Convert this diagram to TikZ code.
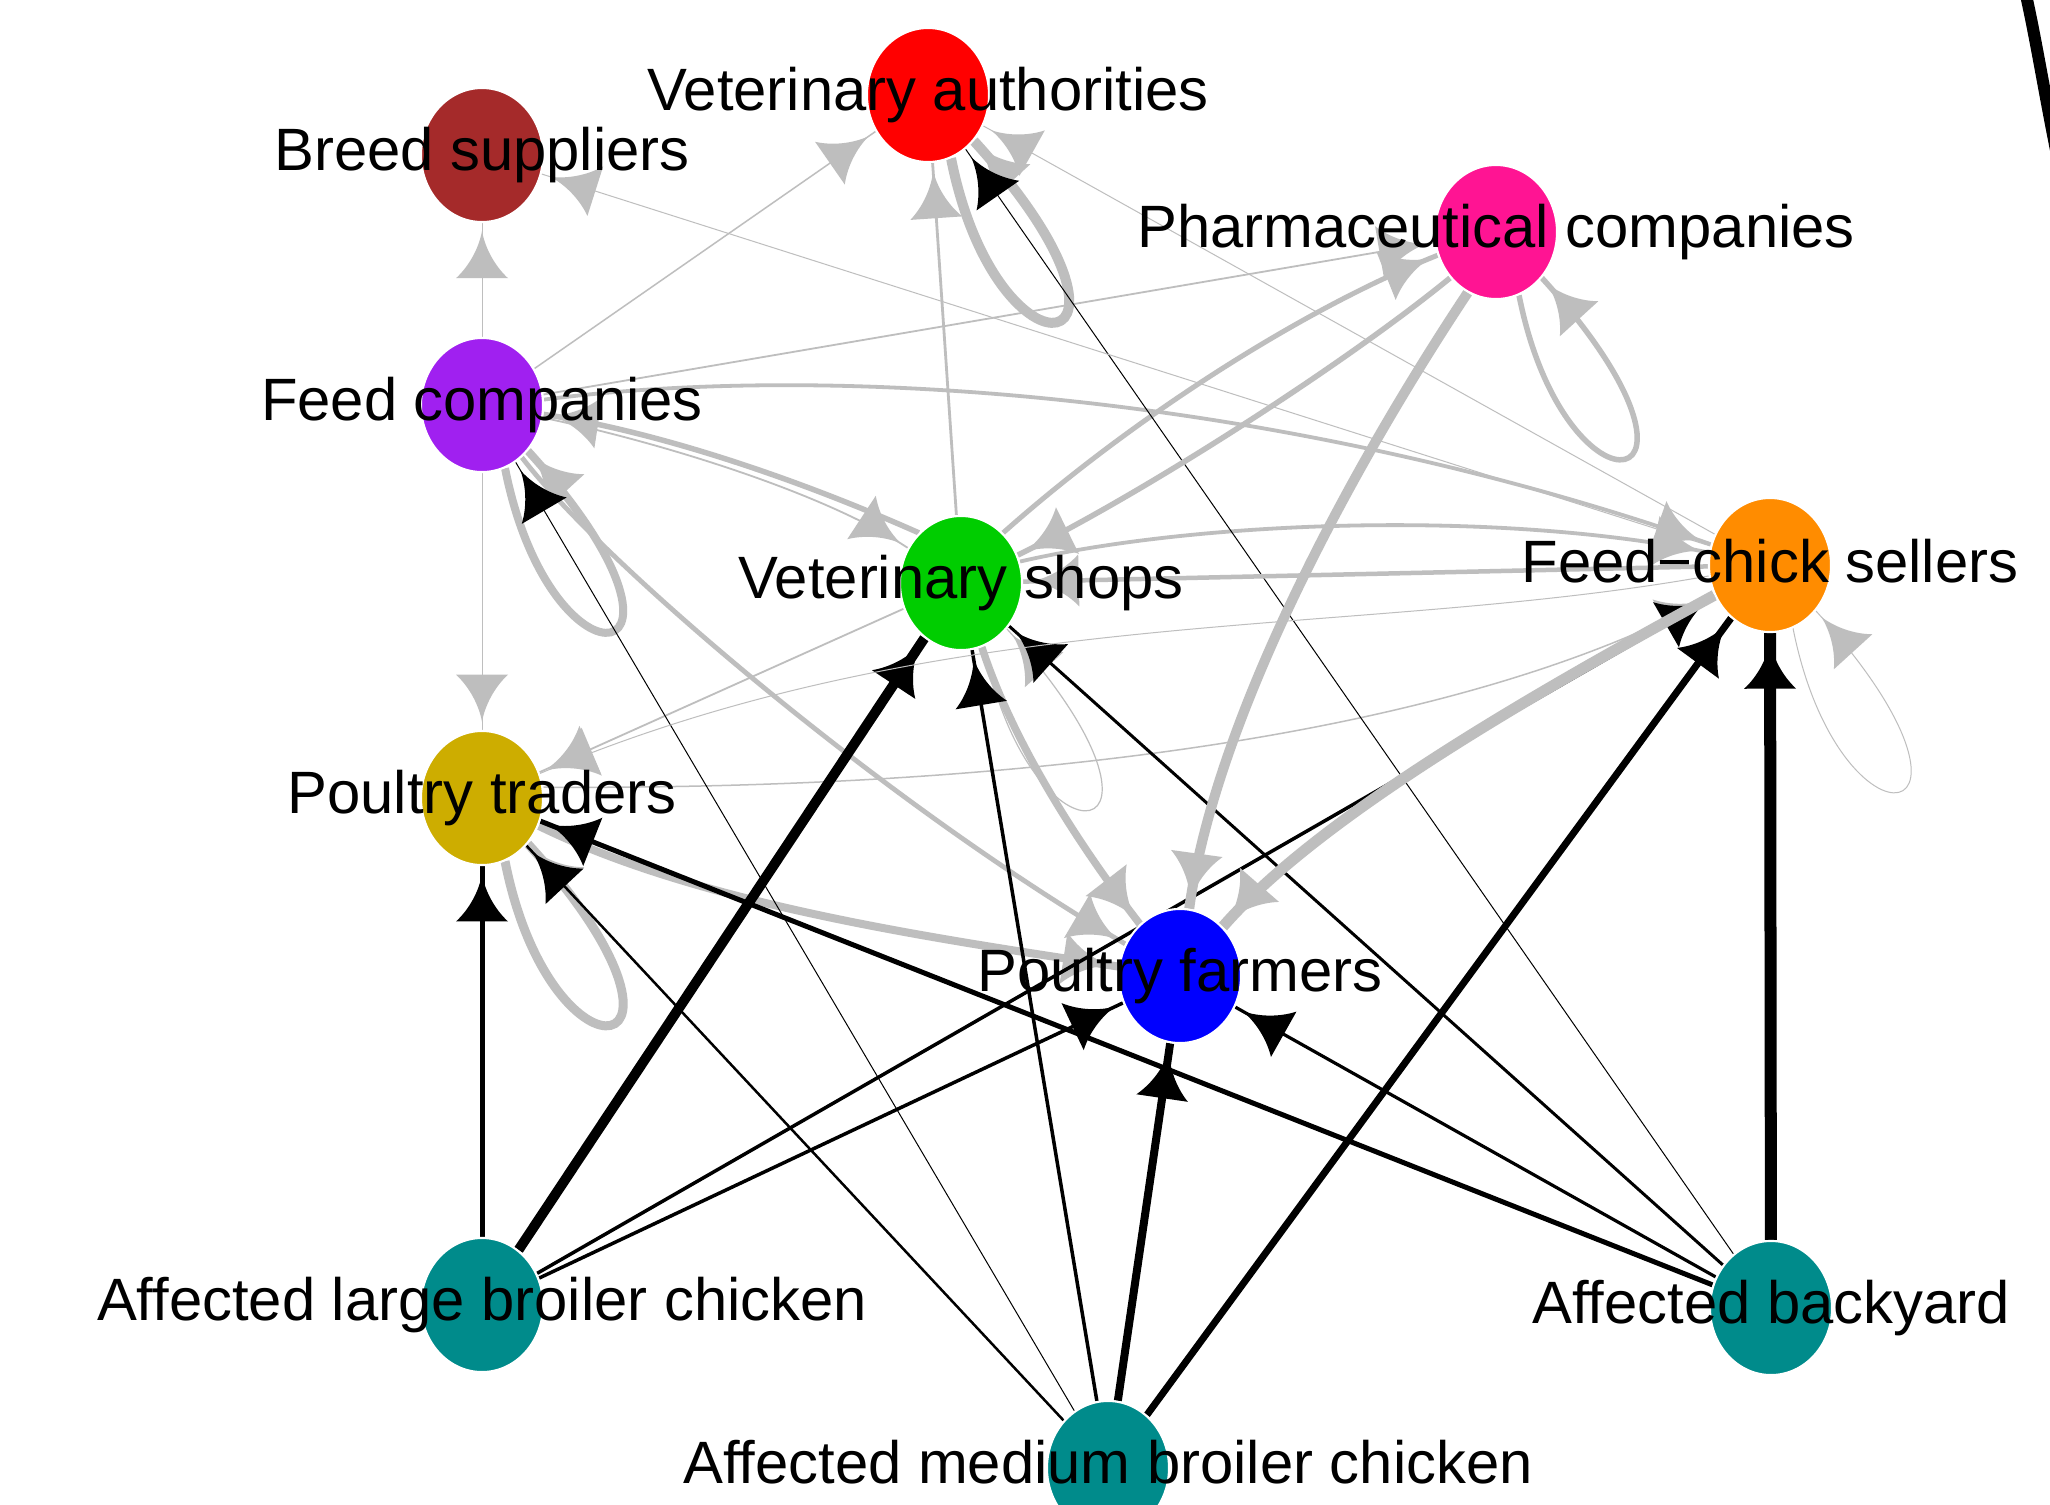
\documentclass[tikz,border=0pt]{standalone}
\usepackage{fontspec}
\setmainfont{Liberation Sans}
\usetikzlibrary{shapes.geometric,decorations.markings,calc}
\definecolor{egray}{HTML}{BEBEBE}
\definecolor{cVA}{HTML}{FF0000}
\definecolor{cBS}{HTML}{A52A2A}
\definecolor{cPC}{HTML}{FF1493}
\definecolor{cFC}{HTML}{A020F0}
\definecolor{cVS}{HTML}{00CD00}
\definecolor{cFCS}{HTML}{FF8C00}
\definecolor{cPT}{HTML}{CDAD00}
\definecolor{cPF}{HTML}{0000FF}
\definecolor{cAF}{HTML}{008B8B}
\pgfdeclarelayer{bgwhite}
\pgfdeclarelayer{edges}
\pgfsetlayers{bgwhite,edges,main}
\newcommand\nloop[2]{\draw[ge=#2] (#1.-70) .. controls ($(#1)+(70,300)$) and ($(#1)+(250,270)$) .. (#1.-45);}
\begin{document}
\begin{tikzpicture}[x=0.01cm,y=-0.01cm,
  vx/.style={ellipse, minimum width=1.22cm, minimum height=1.34cm, inner sep=0pt, draw=white, line width=0.6pt},
  lbl/.style={anchor=base, inner sep=0pt, font=\fontsize{17}{20}\selectfont},
  gtip/.style={postaction={decorate, decoration={markings, mark=at position 0.999 with {\fill[egray] (-8,0) .. controls (-24,3) and (-42,12) .. (-55,26) -- (-55,-26) .. controls (-42,-12) and (-24,-3) .. (-8,0) -- cycle;}}}},
  btip/.style={postaction={decorate, decoration={markings, mark=at position 0.999 with {\fill[black] (-8,0) .. controls (-24,3) and (-42,12) .. (-55,26) -- (-55,-26) .. controls (-42,-12) and (-24,-3) .. (-8,0) -- cycle;}}}},
  ge/.style={draw=egray, line width=#1*0.2845pt, gtip},
  be/.style={draw=black, line width=#1*0.2845pt, btip}]
\begin{pgfonlayer}{bgwhite}
\fill[white] (0,0) rectangle (2050,1505);
\end{pgfonlayer}
\useasboundingbox (0,0) rectangle (2050,1505);

% vertices
\node[vx, fill=cVA] (VA) at (928,95) {};
\node[vx, fill=cBS] (BS) at (482,155) {};
\node[vx, fill=cPC] (PC) at (1496,232) {};
\node[vx, fill=cFC] (FC) at (482,405) {};
\node[vx, fill=cVS] (VS) at (961,583) {};
\node[vx, fill=cFCS] (FCS) at (1770,565) {};
\node[vx, fill=cPT] (PT) at (482,798) {};
\node[vx, fill=cPF] (PF) at (1180,976) {};
\node[vx, fill=cAF] (ALB) at (482,1305) {};
\node[vx, fill=cAF] (AB) at (1771,1308) {};
\node[vx, fill=cAF] (AMB) at (1108,1468) {};

% labels
\node[lbl] (lVA) at (928,110) {Veterinary authorities};
\node[lbl] (lBS) at (482,170) {Breed suppliers};
\node[lbl] (lPC) at (1496,247) {Pharmaceutical companies};
\node[lbl] (lFC) at (482,420) {Feed companies};
\node[lbl] (lVS) at (961,598) {Veterinary shops};
\node[lbl] (lFCS) at (1770,582) {Feed−chick sellers};
\node[lbl] (lPT) at (482,813) {Poultry traders};
\node[lbl] (lPF) at (1180,991) {Poultry farmers};
\node[lbl] (lALB) at (482,1320) {Affected large broiler chicken};
\node[lbl] (lAB) at (1771,1323) {Affected backyard};
\node[lbl] (lAMB) at (1108,1483) {Affected medium broiler chicken};

% black arc at the top right
\draw[line width=12*0.2845pt] (2026,-5) .. controls (2036,40) and (2044,90) .. (2056,150);

\begin{pgfonlayer}{edges}
% gray edges (first group)
\draw[ge=1] (FC) -- (BS);
\draw[ge=1] (FC) -- (PT);
\draw[ge=1.5] (FC) -- (VA);
\draw[ge=1.8] (FC) -- (PC);
\draw[ge=1.8] (FC) .. controls (650,440) and (820,490) .. (VS);
\draw[ge=4.8] (FC) .. controls (600,560) and (880,800) .. (PF);
\draw[ge=3.8] (FC.5) .. controls (850,360) and (1300,400) .. (FCS);
\nloop{FC}{8}
\nloop{PT}{9}
\draw[ge=8] (PT) .. controls (700,905) and (932,938) .. (PF);
\draw[ge=1.5] (PT.10) .. controls (1000,790) and (1450,740) .. (FCS);
\draw[ge=1.8] (VS) -- (PT);
\draw[ge=5.5] (VS.130) .. controls (800,480) and (660,432) .. (FC);
\draw[ge=2.8] (VS) -- (VA);
\draw[ge=7.5] (VS.-72) .. controls (1012,740) and (1075,840) .. (PF);
\nloop{VS}{1.2}
\draw[ge=3.8] (VS.20) .. controls (1200,520) and (1500,510) .. (FCS);
\draw[ge=5] (VS.50) .. controls (1130,420) and (1300,310) .. (PC);
\nloop{VA}{10}
% black edges
\draw[be=5] (ALB) -- (PT);
\draw[be=10] (ALB) -- (VS);
\draw[be=3.5] (ALB) -- (PF);
\draw[be=3.5] (ALB) -- (FCS);
\draw[be=8] (AMB) -- (PF);
\draw[be=3.5] (AMB) -- (VS);
\draw[be=7] (AMB) -- (FCS);
\draw[be=2.5] (AMB) -- (PT);
\draw[be=1] (AMB) -- (FC);
\draw[be=12] (AB) -- (FCS);
\draw[be=5] (AB) -- (PT);
\draw[be=3.2] (AB) -- (PF);
\draw[be=3] (AB) -- (VS);
\draw[be=1] (AB) -- (VA);
% gray edges (second group)
\draw[ge=5.5] (PC.-135) .. controls (1350,360) and (1150,490) .. (VS);
\draw[ge=10] (PC.-115) .. controls (1350,470) and (1215,720) .. (PF);
\nloop{PC}{5.5}
\draw[ge=11] (FCS) .. controls (1540,690) and (1320,815) .. (PF);
\draw[ge=4.5] (FCS) -- (VS);
\draw[ge=1] (FCS) -- (VA);
\draw[ge=1] (FCS) -- (BS);
\draw[ge=1] (FCS) .. controls (1350,640) and (950,600) .. (PT);
\nloop{FCS}{1}
\end{pgfonlayer}
\end{tikzpicture}
\end{document}
